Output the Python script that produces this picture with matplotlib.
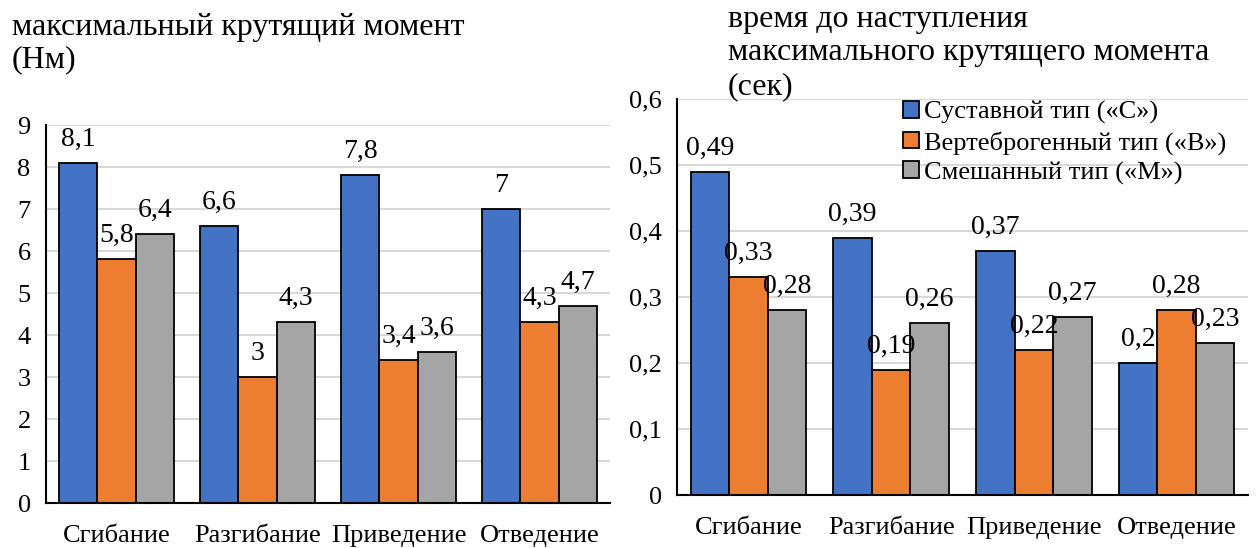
import numpy as np
import matplotlib
matplotlib.use("Agg")
import matplotlib.pyplot as plt

plt.rcParams['font.family'] = ['Liberation Serif', 'DejaVu Serif']

categories = ["Сгибание", "Разгибание", "Приведение", "Отведение"]
series_names = ["Суставной тип («С»)", "Вертеброгенный тип («В»)", "Смешанный тип («М»)"]
colors = ["#4472C4", "#ED7D31", "#A5A5A5"]

# максимальный крутящий момент (Нм)
torque_c = [8.1, 6.6, 7.8, 7.0]
torque_v = [5.8, 3.0, 3.4, 4.3]
torque_m = [6.4, 4.3, 3.6, 4.7]

# время до наступления максимального момента (сек)
time_c = [0.49, 0.39, 0.37, 0.20]
time_v = [0.33, 0.19, 0.22, 0.28]
time_m = [0.28, 0.26, 0.27, 0.23]

W, H = 1256, 548
fig = plt.figure(figsize=(W / 100, H / 100), dpi=100)


def px_axes(x0, x1, ytop, ybot):
    return fig.add_axes([x0 / W, (H - ybot) / H, (x1 - x0) / W, (ybot - ytop) / H])


def fmt(v):
    s = f"{v:.2f}".rstrip("0").rstrip(".")
    return s.replace(".", ",")


def draw(ax, groups, ymax, step, tick_fmt):
    x = np.arange(len(categories))
    w = 0.27
    for i, vals in enumerate(groups):
        ax.bar(x + (i - 1) * w, vals, w, color=colors[i], edgecolor="black",
               linewidth=1.3, zorder=3, label=series_names[i])
        for xi, v in zip(x + (i - 1) * w, vals):
            ax.annotate(fmt(v), (xi, v), xytext=(0, 8), textcoords="offset points",
                        ha="center", va="bottom", fontsize=20, zorder=6)
    ax.set_xlim(-0.5, len(categories) - 0.5)
    ax.set_ylim(0, ymax)
    ticks = np.arange(0, ymax + step / 2, step)
    ax.set_yticks(ticks)
    ax.set_yticklabels([tick_fmt(t) for t in ticks])
    ax.set_xticks(x)
    ax.set_xticklabels(categories)
    ax.tick_params(axis="both", length=0, labelsize=19)
    ax.tick_params(axis="y", pad=11)
    ax.tick_params(axis="x", pad=16)
    ax.grid(axis="y", color="#D9D9D9", linewidth=1.5, zorder=0)
    for s in ["top", "right"]:
        ax.spines[s].set_visible(False)
    for s in ["left", "bottom"]:
        ax.spines[s].set_linewidth(1.5)
        ax.spines[s].set_zorder(4)
    ax.patch.set_alpha(0)


ax1 = px_axes(46, 610, 125, 503)
draw(ax1, [torque_c, torque_v, torque_m], 9, 1, lambda t: f"{int(round(t))}")

ax2 = px_axes(677, 1248, 99, 495)
draw(ax2, [time_c, time_v, time_m], 0.6, 0.1,
     lambda t: "0" if abs(t) < 1e-9 else f"{t:.1f}".replace(".", ","))

fig.text(12 / W, 1 - 13 / H, "максимальный крутящий момент\n(Нм)", ha="left", va="top",
         fontsize=23, linespacing=1.15)
fig.text(728 / W, 1 - 5 / H, "время до наступления\nмаксимального крутящего момента\n(сек)",
         ha="left", va="top", fontsize=23, linespacing=1.2)

ax2.legend(loc="upper left", bbox_to_anchor=(890 / W, 1 - 88 / H), bbox_transform=fig.transFigure,
           frameon=False, fontsize=19, handlelength=0.6, handleheight=0.6,
           handletextpad=0.2, labelspacing=0.25, borderpad=0)

fig.savefig("out.png", dpi=100)
